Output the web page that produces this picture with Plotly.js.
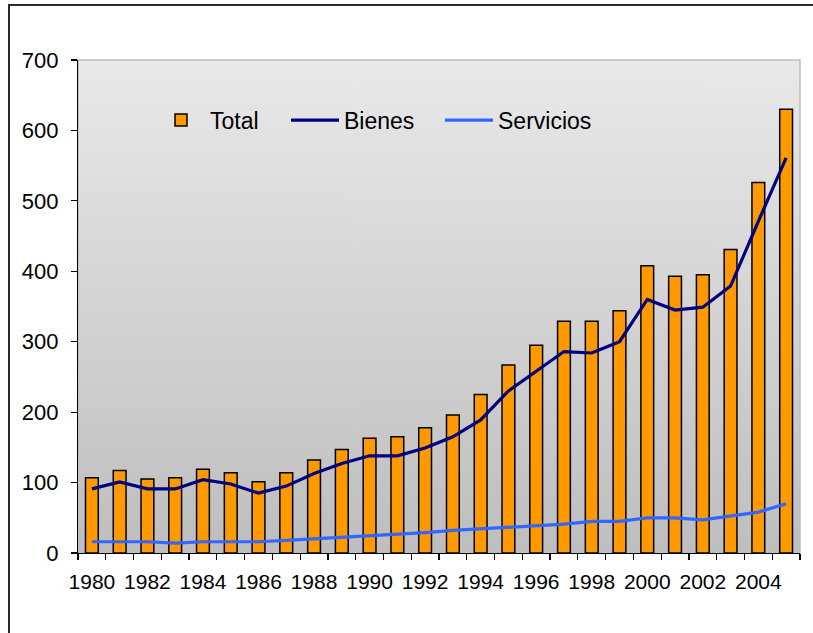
<!DOCTYPE html>
<html>
<head>
<meta charset="utf-8">
<script src="https://cdn.plot.ly/plotly-3.0.1.min.js"></script>
<style>
html,body{margin:0;padding:0;background:#fff;overflow:hidden;}
#chart{width:813px;height:633px;position:absolute;left:0;top:0;}
#frame{position:absolute;left:8px;top:4px;width:900px;height:900px;border-left:2px solid #2a2a2a;border-top:2px solid #2a2a2a;pointer-events:none;}
</style>
</head>
<body>
<div id="chart"></div>
<div id="frame"></div>
<script>
const years = [1980,1981,1982,1983,1984,1985,1986,1987,1988,1989,1990,1991,1992,1993,1994,1995,1996,1997,1998,1999,2000,2001,2002,2003,2004,2005];
const total = [107,117,105,107,119,114,101,114,132,147,163,165,178,196,225,267,295,329,329,344,408,393,395,431,526,630];
const bienes = [91,101,91,91,104,98,85,95,113,127,138,138,149,165,189,230,258,286,284,300,360,345,349,379,471,561];
const servicios = [16,16,16,14,16,16,16,18,20,23,25,27,29,32,34,36,38,41,45,45,50,50,47,52,58,70];
const xTickVals = [1980,1982,1984,1986,1988,1990,1992,1994,1996,1998,2000,2002,2004];
const xTickText = xTickVals.map(String);
const yTickVals = [0,100,200,300,400,500,600,700];

// gradient background for the plot area
const cv = document.createElement('canvas');
cv.width = 4; cv.height = 512;
const ctx = cv.getContext('2d');
const g = ctx.createLinearGradient(0,0,0,512);
g.addColorStop(0,'#e9e9e9');
g.addColorStop(1,'#bebebe');
ctx.fillStyle = g; ctx.fillRect(0,0,4,512);
const bg = cv.toDataURL('image/png');

const font = '"Liberation Sans", Arial, sans-serif';

const traces = [
  {type:'bar', name:'Total', x:years, y:total, width:0.46, legendwidth:71,
   marker:{color:'#FF9900', line:{color:'#000000', width:1.5}}},
  {type:'scatter', mode:'lines', name:'Bienes', x:years, y:bienes, legendwidth:91,
   line:{color:'#000080', width:3.2}},
  {type:'scatter', mode:'lines', name:'Servicios', x:years, y:servicios, legendwidth:100,
   line:{color:'#3366FF', width:3.2}}
];

const layout = {
  width:813, height:633,
  margin:{l:78, r:13, t:60, b:80},
  paper_bgcolor:'rgba(0,0,0,0)',
  plot_bgcolor:'rgba(0,0,0,0)',
  showlegend:true,
  legend:{orientation:'h', x:0.1025, y:0.878, xanchor:'left', yanchor:'middle',
          bgcolor:'rgba(0,0,0,0)', font:{family:font, size:23, color:'#000'},
          itemwidth:48, traceorder:'normal', entrywidthmode:'pixels'},
  images:[{source:bg, xref:'paper', yref:'paper', x:0, y:1, sizex:1, sizey:1,
           sizing:'stretch', layer:'below', xanchor:'left', yanchor:'top'}],
  shapes:[{type:'rect', xref:'paper', yref:'paper', x0:0, x1:1, y0:0, y1:1,
           line:{color:'#bdbdbd', width:1.5}, layer:'below'}],
  xaxis:{range:[1979.5,2005.5], tickmode:'array', tickvals:xTickVals, ticktext:xTickText,
         ticks:'', showgrid:false, zeroline:false, showline:true, linecolor:'#000', linewidth:1.2,
         tickfont:{family:font, size:21, color:'#000'}, ticklabelstandoff:10,
         minor:{tickmode:'linear', tick0:1979.5, dtick:1, ticks:'outside', ticklen:6, tickcolor:'#000', tickwidth:1.2, showgrid:false}},
  yaxis:{range:[0,700], tickmode:'array', tickvals:yTickVals, ticks:'outside', ticklen:6,
         tickcolor:'#000', tickwidth:1.2, showgrid:false, zeroline:false, showline:true,
         linecolor:'#000', linewidth:1.2, tickfont:{family:font, size:22, color:'#000'},
         ticklabelstandoff:8},
  bargap:0.5
};

Plotly.newPlot('chart', traces, layout, {displayModeBar:false, staticPlot:true});
</script>
</body>
</html>
